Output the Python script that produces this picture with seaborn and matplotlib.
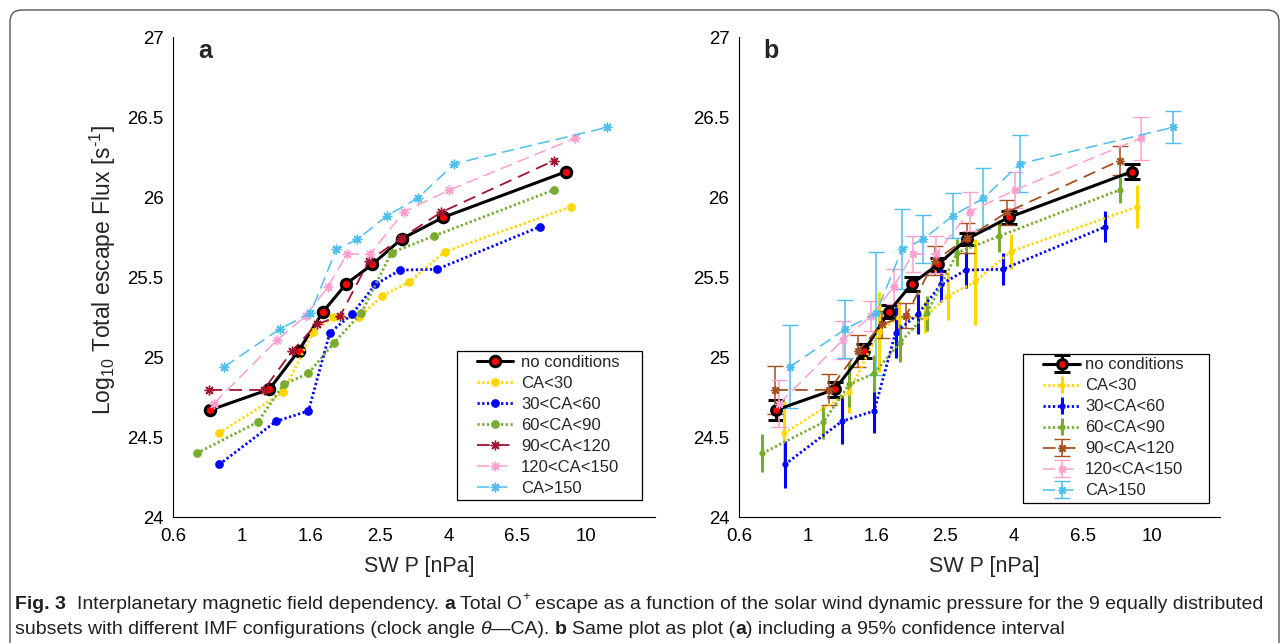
import matplotlib
matplotlib.use("Agg")
import matplotlib.pyplot as plt
import matplotlib.transforms as mtransforms
from matplotlib import font_manager
from matplotlib.patches import FancyBboxPatch, Rectangle
import seaborn as sns

# values: SW dynamic pressure [nPa], log10 escape flux, 95% CI half width
series_labels = ["no conditions", "CA<30", "30<CA<60", "60<CA<90", "90<CA<120", "120<CA<150", "CA>150"]

p_none = [0.807, 1.20, 1.46, 1.72, 2.01, 2.39, 2.91, 3.85, 8.75]
f_none = [24.67, 24.80, 25.04, 25.285, 25.46, 25.58, 25.74, 25.875, 26.16]
e_none = [0.06, 0.047, 0.045, 0.04, 0.044, 0.04, 0.04, 0.04, 0.047]

p_ca30 = [0.854, 1.316, 1.61, 1.84, 2.19, 2.56, 3.06, 3.89, 9.04]
f_ca30 = [24.525, 24.78, 25.16, 25.25, 25.25, 25.385, 25.47, 25.66, 25.94]
e_ca30 = [0.2, 0.13, 0.25, 0.1, 0.1, 0.15, 0.27, 0.11, 0.134]

p_ca60 = [0.858, 1.256, 1.56, 1.80, 2.09, 2.44, 2.88, 3.69, 7.34]
f_ca60 = [24.33, 24.60, 24.665, 25.154, 25.27, 25.455, 25.545, 25.55, 25.816]
e_ca60 = [0.15, 0.145, 0.14, 0.16, 0.126, 0.11, 0.11, 0.1, 0.098]

p_ca90 = [0.738, 1.109, 1.32, 1.56, 1.85, 2.22, 2.72, 3.61, 8.07]
f_ca90 = [24.40, 24.594, 24.83, 24.90, 25.09, 25.275, 25.654, 25.758, 26.046]
e_ca90 = [0.12, 0.104, 0.14, 0.115, 0.12, 0.11, 0.083, 0.1, 0.083]

p_ca120 = [0.804, 1.155, 1.40, 1.647, 1.93, 2.34, 2.90, 3.79, 8.07]
f_ca120 = [24.796, 24.796, 25.04, 25.206, 25.26, 25.604, 25.744, 25.906, 26.229]
e_ca120 = [0.15, 0.097, 0.1, 0.085, 0.08, 0.09, 0.094, 0.08, 0.092]

p_ca150 = [0.826, 1.264, 1.53, 1.777, 2.02, 2.355, 2.96, 4.01, 9.29]
f_ca150 = [24.71, 25.108, 25.258, 25.441, 25.646, 25.644, 25.91, 26.046, 26.369]
e_ca150 = [0.145, 0.12, 0.094, 0.11, 0.11, 0.117, 0.12, 0.11, 0.133]

p_gt150 = [0.887, 1.287, 1.58, 1.88, 2.165, 2.64, 3.24, 4.145, 11.55]
f_gt150 = [24.94, 25.177, 25.275, 25.675, 25.737, 25.885, 25.994, 26.21, 26.4375]
e_gt150 = [0.26, 0.18, 0.385, 0.25, 0.15, 0.14, 0.19, 0.177, 0.099]

xtick_labels = ["0.6", "1", "1.6", "2.5", "4", "6.5", "10"]
ytick_vals = [24, 24.5, 25, 25.5, 26, 26.5, 27]
ytick_labels = ["24", "24.5", "25", "25.5", "26", "26.5", "27"]

caption_lines = [
    [("Fig. 3", "bold"), ("  Interplanetary magnetic field dependency. ", "normal"), ("a", "bold"),
     (" Total O", "normal"), ("+", "sup"),
     (" escape as a function of the solar wind dynamic pressure for the 9 equally distributed", "normal")],
    [("subsets with different IMF configurations (clock angle ", "normal"), ("θ", "italic"),
     ("—CA). ", "normal"), ("b", "bold"), (" Same plot as plot (", "normal"), ("a", "bold"),
     (") including a 95% confidence interval", "normal")],
]

data = [
    (p_none, f_none, e_none), (p_ca30, f_ca30, e_ca30), (p_ca60, f_ca60, e_ca60),
    (p_ca90, f_ca90, e_ca90), (p_ca120, f_ca120, e_ca120), (p_ca150, f_ca150, e_ca150),
    (p_gt150, f_gt150, e_gt150),
]

dot = (0, (0.8, 0.9))
star = (8, 2, 0)
# colour, linestyle, linewidth, marker, face colour, marker size a, marker size b, thick bars
styles = [
    ("black", "-", 2.2, "o", "red", 7.5, 7.0, True),
    ("#FFD700", dot, 2.0, "o", "#FFD700", 6.3, 4.5, True),
    ("#0000FF", dot, 2.0, "o", "#0000FF", 6.3, 4.5, True),
    ("#77AC30", dot, 2.0, "o", "#77AC30", 6.3, 4.5, True),
    ("#A2142F", (0, (7, 4)), 1.3, star, "none", 7.0, 6.0, False),
    ("#FF9FCF", (0, (8, 4)), 1.1, star, "none", 7.0, 6.0, False),
    ("#4DBEEE", (0, (8, 4)), 1.1, star, "none", 7.0, 6.0, False),
]
brown_b = "#A5501E"

sns.set_theme(style="white")
plt.rcParams["font.family"] = ["Liberation Sans", "DejaVu Sans"]
plt.rcParams["mathtext.fontset"] = "custom"
plt.rcParams["mathtext.rm"] = "Liberation Sans"
plt.rcParams["mathtext.it"] = "Liberation Sans:italic"
plt.rcParams["mathtext.bf"] = "Liberation Sans:bold"

W, H = 1284, 643
fig = plt.figure(figsize=(W / 100, H / 100), dpi=100)
fig.patch.set_facecolor("white")


def px_rect(left, top, right, bottom):
    return [left / W, 1 - bottom / H, (right - left) / W, (bottom - top) / H]


ax_a = fig.add_axes(px_rect(173.3, 37.3, 654.7, 517.3))
ax_b = fig.add_axes(px_rect(739, 37.3, 1220.4, 517.3))

# panel a: lines with markers
for lab, (px, fy, _), st in zip(series_labels, data, styles):
    col, ls, lw, mk, mfc, ms, _, _ = st
    sns.lineplot(x=px, y=fy, ax=ax_a, sort=False, estimator=None, color=col, linestyle=ls,
                 linewidth=lw, marker=mk, markersize=ms, markerfacecolor=mfc,
                 markeredgecolor=col, markeredgewidth=2.2 if lab == "no conditions" else (0 if mfc != "none" else 1.0),
                 label=lab, legend=False)

# panel b: same with 95% confidence intervals
for lab, (px, fy, err), st in zip(series_labels, data, styles):
    col, ls, lw, mk, mfc, _, ms, thick = st
    if lab == "90<CA<120":
        col = brown_b
    if mfc not in ("none", "red"):
        mfc = col
    ax_b.errorbar(px, fy, yerr=err, color=col, linestyle=ls, linewidth=lw, marker=mk, markersize=ms,
                  markerfacecolor=mfc, markeredgecolor=col,
                  markeredgewidth=2.2 if lab == "no conditions" else (0 if mfc != "none" else 1.0),
                  elinewidth=2.2 if thick else 1.1, capsize=5.5, capthick=2.2 if thick else 1.1,
                  label=lab)

# legend frame boxes and content anchors (axes fraction), one per panel
legend_boxes = [(0.589, 0.036, 0.974, 0.346), (0.590, 0.030, 0.976, 0.340)]
legend_anchor = [(0.630, 0.338), (0.632, 0.333)]
legend_textpad = [0.46, 0.32]

for i, (ax, letter) in enumerate([(ax_a, "a"), (ax_b, "b")]):
    ax.set_xscale("log")
    ax.set_xlim(10 ** -0.2, 10 ** 1.2)
    ax.set_ylim(24, 27)
    ax.set_xticks([10 ** (-0.2 + 0.2 * k) for k in range(len(xtick_labels))])
    ax.set_xticklabels(xtick_labels)
    ax.xaxis.set_minor_locator(matplotlib.ticker.NullLocator())
    ax.set_yticks(ytick_vals)
    ax.set_yticklabels(ytick_labels)
    ax.tick_params(direction="in", length=4, width=0.8, labelsize=13.4, colors="black")
    ax.tick_params(axis="y", pad=7)
    ax.tick_params(axis="x", pad=8)
    sns.despine(ax=ax)
    for sp in ["left", "bottom"]:
        ax.spines[sp].set_color("black")
        ax.spines[sp].set_linewidth(0.8)
    ax.set_xlabel("SW P [nPa]", fontsize=15.5, va="center")
    ax.xaxis.set_label_coords(0.51, -0.103)
    ax.text(0.066, 0.972, letter, transform=ax.transAxes, fontsize=18, fontweight="bold",
            ha="center", va="center")
    ax.legend(loc="upper left", bbox_to_anchor=legend_anchor[i], fontsize=12, frameon=False,
              handlelength=2.2, handletextpad=legend_textpad[i], labelspacing=0.36,
              borderpad=0, borderaxespad=0)
    x0, y0, x1, y1 = legend_boxes[i]
    ax.add_patch(Rectangle((x0, y0), x1 - x0, y1 - y0, transform=ax.transAxes, facecolor="none",
                           edgecolor="black", linewidth=0.9, zorder=1))
    ax.set_facecolor("white")

ax_a.set_ylabel(r"Log$_{10}$ Total escape Flux [s$^{\text{-1}}$]", fontsize=16.5, va="center")
ax_a.yaxis.set_label_coords(-0.146, 0.515)

# outer rounded frame
frame = FancyBboxPatch((10, -30), 1269, 663, boxstyle="round,pad=0,rounding_size=12",
                       transform=mtransforms.IdentityTransform(), facecolor="none",
                       edgecolor="#555555", linewidth=1.0)
fig.add_artist(frame)

# caption, laid out piece by piece
names = {f.name for f in font_manager.fontManager.ttflist}
cap_font = "Liberation Sans Narrow" if "Liberation Sans Narrow" in names else "Liberation Sans"
renderer = fig.canvas.get_renderer()


def text_w(s, **props):
    t = fig.text(0, 0, s, **props)
    w = t.get_window_extent(renderer).width
    t.remove()
    return w


def layout(size, keep):
    ends = []
    for yb, segs in zip([34, 9], caption_lines):
        x = 15
        for s, kind in segs:
            fs = size * 0.68 if kind == "sup" else size
            props = dict(fontsize=fs, family=[cap_font, "DejaVu Sans"],
                         weight="bold" if kind == "bold" else "normal",
                         style="italic" if kind == "italic" else "normal")
            sp = text_w("n n", **props) - text_w("nn", **props)
            core = s.strip(" ")
            x += (len(s) - len(s.lstrip(" "))) * sp
            dy = size * 1.389 * 0.45 if kind == "sup" else 0
            t = fig.text(x / W, (yb + dy) / H, core, ha="left", va="baseline", color="#231F20", **props)
            x += t.get_window_extent(renderer).width + (len(s) - len(s.rstrip(" "))) * sp
            if not keep:
                t.remove()
        ends.append(x)
    return ends[0]


w0 = layout(12, False) - 15
layout(12 * (1262 - 15) / w0, True)

fig.savefig("out.png", dpi=100)
